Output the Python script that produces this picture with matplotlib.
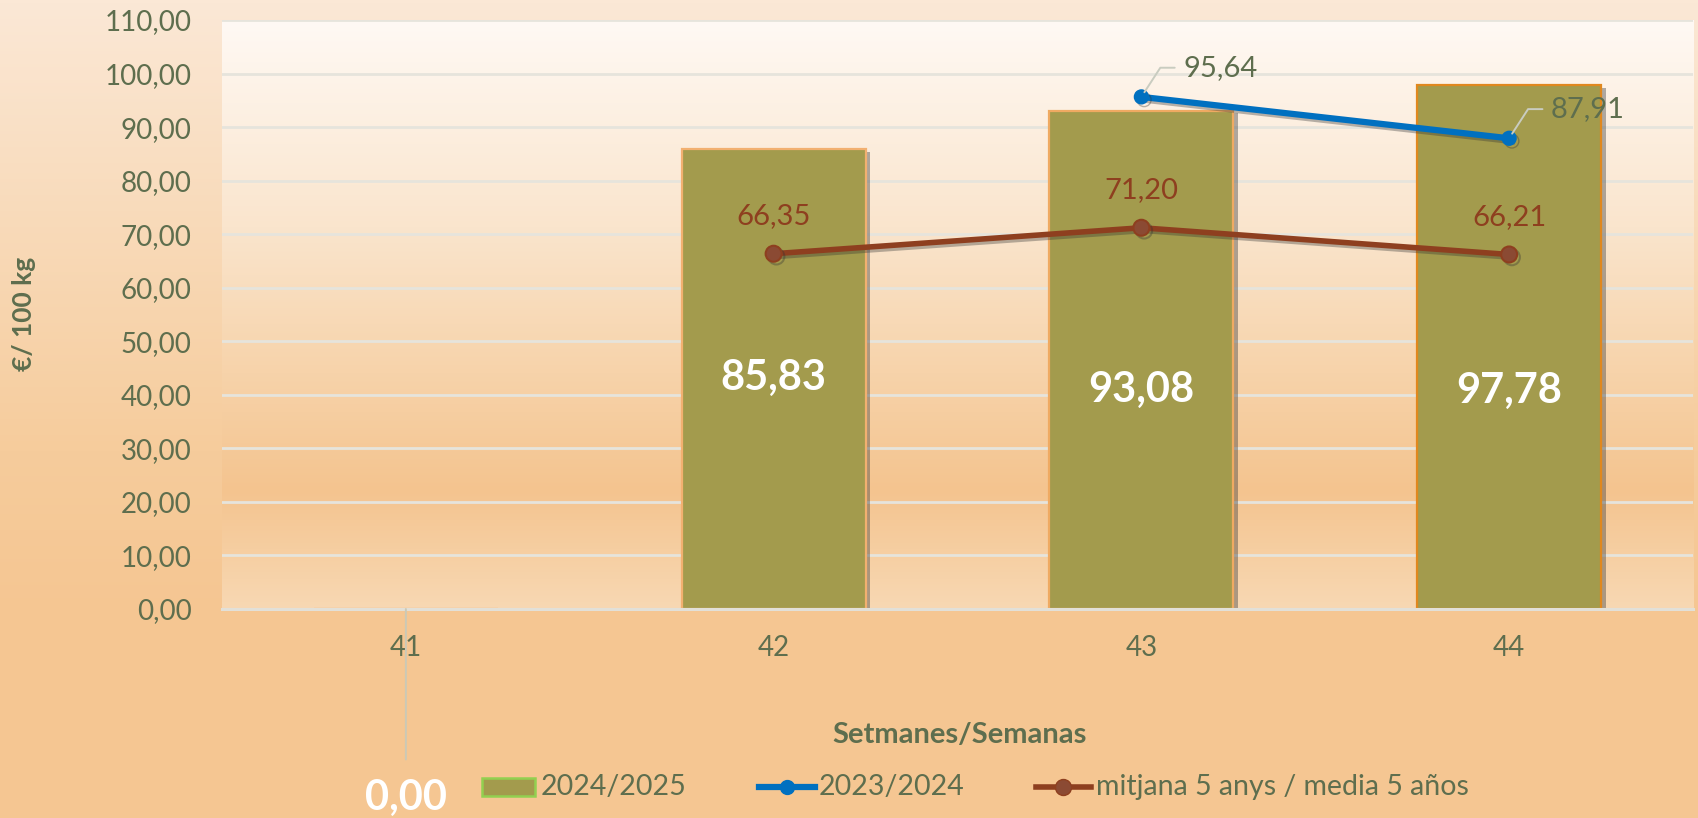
import numpy as np
import matplotlib
matplotlib.use("Agg")
import matplotlib.pyplot as plt
from matplotlib.colors import LinearSegmentedColormap
from matplotlib.patches import Rectangle
from matplotlib.lines import Line2D
import matplotlib.patheffects as pe
from matplotlib.ticker import FuncFormatter, MultipleLocator

plt.rcParams['font.family'] = ['Lato', 'DejaVu Sans']

# ---------------- data ----------------
weeks = ["41", "42", "43", "44"]
s2024_2025 = [0.00, 85.83, 93.08, 97.78]
s2023_2024 = [np.nan, np.nan, 95.64, 87.91]
media5 = [np.nan, 66.35, 71.20, 66.21]
series_names = ["2024/2025", "2023/2024", "mitjana 5 anys / media 5 años"]
ylabel = "€/ 100 kg"
xlabel = "Setmanes/Semanas"

# layout for bar value labels (y of label centre, data units)
bar_label_y = [None, 43.1, 40.9, 40.7]

# ---------------- style ----------------
W, H = 1698, 818
TXT = "#5E6E4E"
OLIVE = "#A39B4D"
BLUE = "#0070C0"
BROWN = "#8E3F1F"
BROWN_FILL = "#8B4A33"
GRID = "#E6E4DC"

def fmt(v):
    return f"{v:.2f}".replace(".", ",")

fig = plt.figure(figsize=(W / 100, H / 100), dpi=100)

# figure background gradient
bg = fig.add_axes([0, 0, 1, 1], zorder=-10)
bg.axis("off")
cm_bg = LinearSegmentedColormap.from_list(
    "bg", [(0, "#FBE8D6"), (0.55, "#F6CC9C"), (0.75, "#F5C692"), (1, "#F5C692")])
bg.imshow(np.linspace(0, 1, 256)[:, None], aspect="auto", cmap=cm_bg,
          extent=[0, 1, 0, 1], origin="upper")
bg.set_xlim(0, 1); bg.set_ylim(0, 1)

left, right, top, bottom = 222, 1693, 20, 609
ax = fig.add_axes([left / W, 1 - bottom / H, (right - left) / W, (bottom - top) / H])
ax.set_facecolor("none")

# plot-area gradient
cm_pl = LinearSegmentedColormap.from_list(
    "pl", [(0, "#FFF9F4"), (0.35, "#FAE5CD"), (0.6, "#F7D3AA"),
           (0.8, "#F4C48F"), (1, "#F8D8B3")])
ax.imshow(np.linspace(0, 1, 256)[:, None], aspect="auto", cmap=cm_pl,
          extent=[0, 1, 0, 1], transform=ax.transAxes, origin="upper", zorder=0)

x = np.arange(len(weeks))
ax.set_xlim(-0.5, len(weeks) - 0.5)
ax.set_ylim(0, 110)

# gridlines
ax.yaxis.set_major_locator(MultipleLocator(10))
ax.grid(axis="y", color=GRID, lw=2, zorder=1)
ax.set_axisbelow(True)
for s in ["left", "right", "top"]:
    ax.spines[s].set_visible(False)
ax.spines["bottom"].set_color("#E2E0D8")
ax.spines["bottom"].set_linewidth(2.2)
ax.spines["bottom"].set_zorder(5)

# bars
edge_cols = ["#F2B070", "#F2B070", "#EFAA62", "#E0881E"]
bars = ax.bar(x, s2024_2025, width=0.5, color=OLIVE, edgecolor=edge_cols,
              linewidth=1.6, zorder=3)
for b in bars:
    b.set_path_effects([pe.SimplePatchShadow(offset=(3.5, -2), shadow_rgbFace="#3a3a3a",
                                             alpha=0.4), pe.Normal()])

# lines
shadow = [pe.SimpleLineShadow(offset=(2, -2), shadow_color="#333", alpha=0.35), pe.Normal()]
ax.plot(x, s2023_2024, color=BLUE, lw=4.5, marker="o", ms=10,
        markerfacecolor=BLUE, markeredgecolor=BLUE, zorder=6, path_effects=shadow)
ax.plot(x, media5, color=BROWN, lw=4, marker="o", ms=11.5,
        markerfacecolor=BROWN_FILL, markeredgecolor=BROWN, markeredgewidth=1.5,
        zorder=5, path_effects=shadow)

# bar labels
for xi, v, ly in zip(x, s2024_2025, bar_label_y):
    if v == 0:
        ax.annotate(fmt(v), xy=(xi, 0), xytext=(0, -136), textcoords="offset points",
                    ha="center", va="center", color="white", fontsize=30,
                    fontweight="bold", annotation_clip=False, zorder=7,
                    arrowprops=dict(arrowstyle="-", color="#CBC9B6", lw=1.4,
                                    shrinkA=12, shrinkB=0, relpos=(0.5, 1)))
    else:
        ax.text(xi, ly, fmt(v), ha="center", va="center", color="white",
                fontsize=30, fontweight="bold", zorder=7)

# blue labels with leader lines
for xi, v in zip(x, s2023_2024):
    if np.isnan(v):
        continue
    ax.annotate(fmt(v), xy=(xi, v), xytext=(30, 21), textcoords="offset points",
                ha="left", va="center", color=TXT, fontsize=21, zorder=8,
                arrowprops=dict(arrowstyle="-", color="#C9CCC0", lw=1.4,
                                connectionstyle="angle,angleA=180,angleB=57,rad=0",
                                shrinkA=4, shrinkB=4, relpos=(0, 0.5)))

# brown labels
for xi, v in zip(x, media5):
    if np.isnan(v):
        continue
    ax.annotate(fmt(v), xy=(xi, v), xytext=(0, 27), textcoords="offset points",
                ha="center", va="center", color=BROWN, fontsize=21, zorder=8)

# ticks
ax.set_xticks(x)
ax.set_xticklabels(weeks)
ax.tick_params(axis="x", length=0, pad=19, labelsize=20, labelcolor=TXT)
ax.tick_params(axis="y", length=0, pad=22, labelsize=20, labelcolor=TXT)
ax.yaxis.set_major_formatter(FuncFormatter(lambda v, p: fmt(v)))

# axis titles
fig.text(24 / W, 1 - 314 / H, ylabel, rotation=90, ha="center", va="center",
         fontsize=19, fontweight="bold", color=TXT)
fig.text(960 / W, 1 - 735 / H, xlabel, ha="center", va="center",
         fontsize=21, fontweight="bold", color=TXT)

# legend (manual)
ly = 1 - 787 / H
LFS = 20.5
fig.patches.append(Rectangle((482 / W, 1 - 796 / H), 53 / W, 18 / H, transform=fig.transFigure,
                             facecolor=OLIVE, edgecolor="#92D050", lw=1.8))
fig.text(541 / W, ly, series_names[0], ha="left", va="center", fontsize=LFS, color=TXT)
fig.lines.append(Line2D([759 / W, 815 / W], [ly, ly], transform=fig.transFigure,
                        color=BLUE, lw=4.5))
fig.lines.append(Line2D([787 / W], [ly], transform=fig.transFigure, marker="o", ms=10,
                        color=BLUE))
fig.text(819 / W, ly, series_names[1], ha="left", va="center", fontsize=LFS, color=TXT)
fig.lines.append(Line2D([1036 / W, 1091 / W], [ly, ly], transform=fig.transFigure,
                        color=BROWN, lw=4))
fig.lines.append(Line2D([1063 / W], [ly], transform=fig.transFigure, marker="o", ms=11.5,
                        markerfacecolor=BROWN_FILL, markeredgecolor=BROWN, color=BROWN))
fig.text(1096 / W, ly, series_names[2], ha="left", va="center", fontsize=LFS, color=TXT)

fig.savefig("out.png", dpi=100)
